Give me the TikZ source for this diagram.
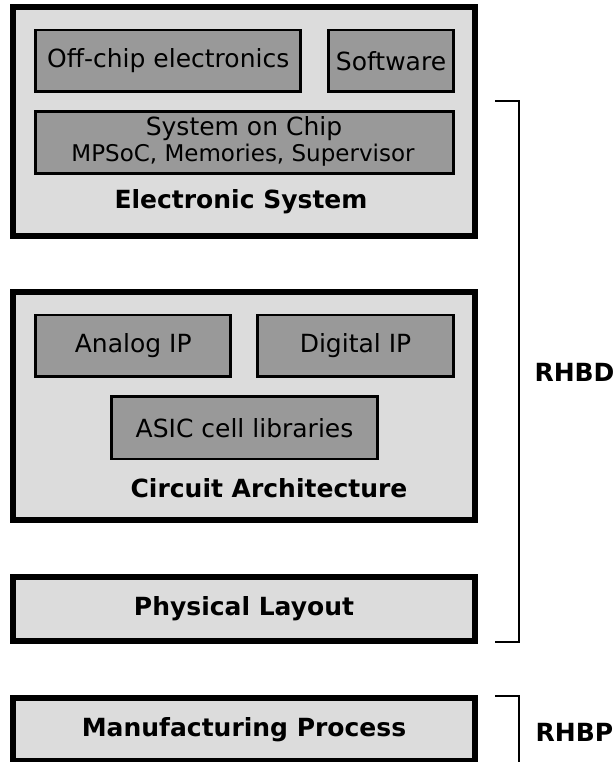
\documentclass[tikz,border=0pt]{standalone}
\usepackage{fontspec}
\setmainfont{DejaVu Sans}
\definecolor{outerfill}{HTML}{DCDCDC}
\definecolor{innerfill}{HTML}{999999}
\begin{document}
\begin{tikzpicture}[x=1pt,y=-1pt,
  outerbox/.style={draw=black,fill=outerfill,line width=5.8pt,rectangle,inner sep=0pt},
  innerbox/.style={draw=black,fill=innerfill,line width=2.8pt,rectangle,inner sep=0pt,
    font=\fontsize{25}{29}\selectfont,align=center},
  boldlabel/.style={inner sep=0pt,font=\fontsize{25}{29}\selectfont\bfseries},
  bracketline/.style={draw=black,line width=2pt}]
\useasboundingbox (0,0) rectangle (614,762);
% outer boxes
\node[outerbox,minimum width=462.5pt,minimum height=229.6pt] (es) at (244,121.5) {};
\node[outerbox,minimum width=462.5pt,minimum height=227.7pt] (ca) at (244,405.85) {};
\node[outerbox,minimum width=462.5pt,minimum height=63.7pt] (pl) at (244,609.2) {};
\node[outerbox,minimum width=462.5pt,minimum height=63pt] (mp) at (244,729.5) {};
% inner boxes
\node[innerbox,minimum width=265.1pt,minimum height=61.7pt] (off) at (168.25,60.85) {Off-chip electronics};
\node[innerbox,minimum width=125.4pt,minimum height=61.7pt] (sw) at (391,60.85) {Software};
\node[innerbox,minimum width=418pt,minimum height=61.6pt] (soc) at (244.7,142.5) {};
\node[inner sep=0pt,font=\fontsize{25}{29}\selectfont] (soc1) at (244,128.5) {System on Chip};
\node[inner sep=0pt,font=\fontsize{23}{27}\selectfont] (soc2) at (243,155.5) {MPSoC, Memories, Supervisor};
\node[innerbox,minimum width=195pt,minimum height=61.7pt] (aip) at (133.2,345.85) {Analog IP};
\node[innerbox,minimum width=195.6pt,minimum height=61.7pt] (dip) at (355.5,345.85) {Digital IP};
\node[innerbox,minimum width=265.6pt,minimum height=62.3pt] (asic) at (244.5,427.85) {ASIC cell libraries};
% labels
\node[boldlabel] (esl) at (241,202) {Electronic System};
\node[boldlabel] (cal) at (269,488) {Circuit Architecture};
\node[boldlabel] (pll) at (244,609) {Physical Layout};
\node[boldlabel] (mpl) at (244,729.5) {Manufacturing Process};
\node[boldlabel] (rhbd) at (574.5,372) {RHBD};
\node[boldlabel] (rhbp) at (574.5,732) {RHBP};
% brackets
\coordinate (bd1) at (495,100.7);
\coordinate (bd2) at (519,100.7);
\coordinate (bd3) at (519,641.7);
\coordinate (bd4) at (495,641.7);
\draw[bracketline] (bd1) -- (bd2) -- (bd3) -- (bd4);
\coordinate (bp1) at (495,695.7);
\coordinate (bp2) at (519,695.7);
\coordinate (bp3) at (519,764);
\draw[bracketline] (bp1) -- (bp2) -- (bp3);
\end{tikzpicture}
\end{document}
